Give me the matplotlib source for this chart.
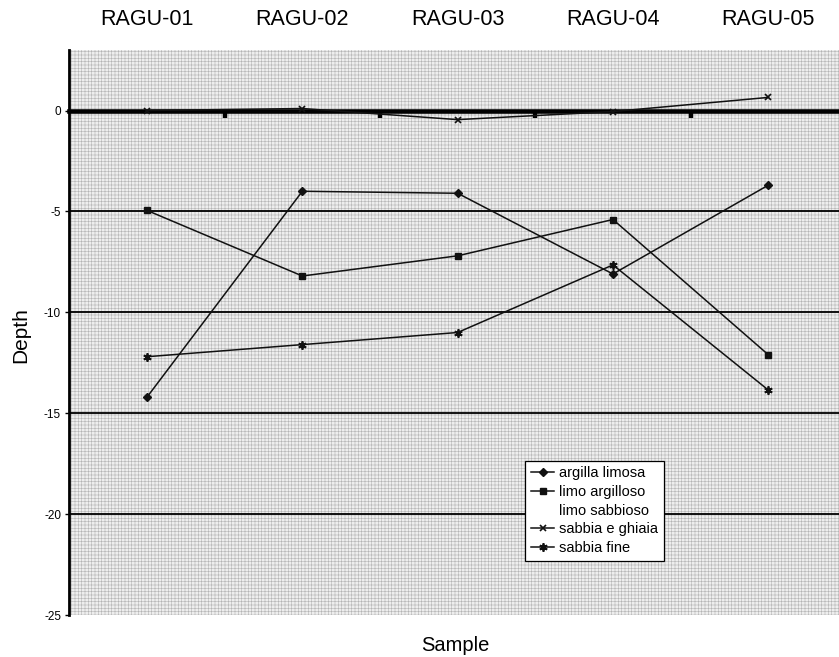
import matplotlib
matplotlib.use("Agg")
import matplotlib.pyplot as plt
import numpy as np
from matplotlib.patches import Rectangle

plt.rcParams["font.family"] = ["Liberation Sans", "DejaVu Sans"]
plt.rcParams["hatch.linewidth"] = 0.4

# Sample stations and depth of each soil type
samples = ["RAGU-01", "RAGU-02", "RAGU-03", "RAGU-04", "RAGU-05"]
argilla_limosa = [-14.2, -4.0, -4.1, -8.1, -3.7]
limo_argilloso = [-4.95, -8.2, -7.2, -5.4, -12.1]
limo_sabbioso = [0.0, 0.0, 0.0, 0.0, 0.0]
sabbia_e_ghiaia = [0.0, 0.1, -0.45, -0.05, 0.65]
sabbia_fine = [-12.2, -11.6, -11.0, -7.65, -13.85]

y_ticks = [-25, -20, -15, -10, -5, 0]
grid_levels = [-20, -15, -10, -5]

W, H = 839, 657
fig = plt.figure(figsize=(W / 100, H / 100), dpi=100)
ax = fig.add_axes([69.4 / W, (H - 615) / H, 776.5 / W, 565 / H])

# category positions centred in each slot, like a category axis
x = np.arange(len(samples)) + 0.5
ax.set_xlim(0, len(samples))
ax.set_ylim(-25, 3)

# stippled plot-area fill
ax.add_patch(Rectangle((0, 0), 1, 1, transform=ax.transAxes,
                       facecolor="#eeeeee", edgecolor="#b4b4b4",
                       hatch="+++++", linewidth=0, zorder=0))

ax.hlines(grid_levels, 0, len(samples), colors="black", linewidth=1.3, zorder=1)

line_kw = dict(color="#111111", linewidth=1.1, zorder=3)
ax.plot(x, argilla_limosa, marker="D", markersize=4.5, label="argilla limosa", **line_kw)
ax.plot(x, limo_argilloso, marker="s", markersize=4.5, label="limo argilloso", **line_kw)
ax.plot(x, limo_sabbioso, color="white", linewidth=1.0, zorder=1.5, label="limo sabbioso")
ax.plot(x, sabbia_e_ghiaia, marker="x", markersize=5, markeredgewidth=1.2,
        label="sabbia e ghiaia", **line_kw)
ax.plot(x, sabbia_fine, marker=(6, 2, 0), markersize=6, markeredgewidth=1.3,
        label="sabbia fine", **line_kw)

# axes: category axis crossing at zero, value axis on the left
for side in ("top", "right"):
    ax.spines[side].set_visible(False)
ax.spines["left"].set_linewidth(2.0)
ax.spines["bottom"].set_position(("data", 0))
ax.spines["bottom"].set_linewidth(3.3)
ax.spines["bottom"].set_zorder(2.5)

ax.set_xticks(np.arange(1, len(samples)))
ax.set_xticklabels([])
ax.tick_params(axis="x", direction="out", length=5, width=3.2, color="black")

ax.set_yticks(y_ticks)
ax.set_yticklabels([str(v) for v in y_ticks])
ax.tick_params(axis="y", direction="out", length=3, width=1, labelsize=8.5, pad=3)

top = ax.secondary_xaxis("top")
top.set_xticks(x)
top.set_xticklabels(samples, fontsize=15.5)
top.tick_params(length=0, pad=14.5)
top.spines["top"].set_visible(False)

ax.set_ylabel("Depth", fontsize=15)
ax.yaxis.set_label_coords(-0.051, 0.496)
ax.set_xlabel("Sample", fontsize=14.5)
ax.xaxis.set_label_coords(0.497, -0.038)

leg = ax.legend(loc="lower left", bbox_to_anchor=(0.587, 0.0956), borderaxespad=0,
                frameon=True, fancybox=False, edgecolor="black", framealpha=1,
                fontsize=10.5, handlelength=1.6, handletextpad=0.3,
                labelspacing=0.32, borderpad=0.4)
leg.get_frame().set_linewidth(0.9)

fig.savefig("out.png", dpi=100)
